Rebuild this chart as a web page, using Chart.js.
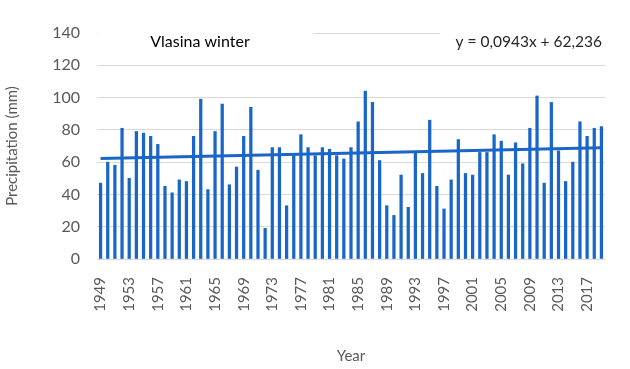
<!DOCTYPE html>
<html>
<head>
<meta charset="utf-8">
<script src="https://cdn.jsdelivr.net/npm/chart.js@4.4.1/dist/chart.umd.min.js"></script>
<style>
  html, body { margin: 0; padding: 0; background: #fff; }
  #wrap { width: 630px; height: 369px; }
</style>
</head>
<body>
<div id="wrap"><canvas id="chart" width="630" height="369"></canvas></div>
<script>
// Vlasina winter precipitation, 1949-2019

const years = [];
for (let y = 1949; y <= 2019; y++) years.push(String(y));

const precipitation = [
  47, 60, 58, 81, 50, 79, 78, 76, 71, 45, 41, 49,   // 1949-1960
  48, 76, 99, 43, 79, 96, 46, 57, 76, 94, 55, 19,   // 1961-1972
  69, 69, 33, 64, 77, 69, 64, 69, 68, 64, 62, 69,   // 1973-1984
  85, 104, 97, 61, 33, 27, 52, 32, 66, 53, 86, 45,  // 1985-1996
  31, 49, 74, 53, 52, 66, 66, 77, 73, 52, 72, 59,   // 1997-2008
  81, 101, 47, 97, 67, 48, 60, 85, 76, 81, 82       // 2009-2019
];

// linear trend line, read at first and last year
const trendStart = 62.3;
const trendEnd = 68.9;
const trendText = 'y = 0,0943x + 62,236';
const chartTitle = 'Vlasina winter';

const yTicks = [0, 20, 40, 60, 80, 100, 120, 140];

const BLUE = '#1a66c8';
const TEXT = '#595959';
const FONT = 'Lato, "Open Sans", sans-serif';

const trendData = years.map((_, i) => {
  if (i === 0) return trendStart;
  if (i === years.length - 1) return trendEnd;
  return null;
});

// title and equation sit inside the plot on white boxes
const labelsPlugin = {
  id: 'labels',
  beforeDatasetsDraw(chart) {
    const ctx = chart.ctx;
    ctx.save();
    ctx.fillStyle = '#fff';
    ctx.fillRect(98, 24, 215, 30);
    ctx.fillRect(440, 24, 165, 30);
    ctx.fillStyle = '#000';
    ctx.font = '16px ' + FONT;
    ctx.textBaseline = 'middle';
    ctx.textAlign = 'center';
    ctx.fillText(chartTitle, 200, 42);
    ctx.fillStyle = '#262626';
    ctx.textAlign = 'right';
    ctx.font = '15.5px ' + FONT;
    ctx.fillText(trendText, 602, 42);
    ctx.restore();
  }
};

new Chart(document.getElementById('chart'), {
  type: 'bar',
  data: {
    labels: years,
    datasets: [
      {
        type: 'line',
        data: trendData,
        borderColor: BLUE,
        borderWidth: 3,
        pointRadius: 0,
        spanGaps: true,
        order: 0
      },
      {
        data: precipitation,
        backgroundColor: BLUE,
        barThickness: 2.6,
        order: 1
      }
    ]
  },
  options: {
    responsive: false,
    animation: false,
    layout: { padding: { top: 33, right: 25, left: 0, bottom: 0 } },
    plugins: {
      legend: { display: false },
      tooltip: { enabled: false }
    },
    scales: {
      x: {
        grid: { display: false },
        border: { display: false },
        ticks: {
          autoSkip: false,
          maxRotation: 90,
          minRotation: 90,
          padding: 10,
          color: TEXT,
          font: { family: FONT, size: 15 },
          callback: function (value, index) {
            return index % 4 === 0 ? years[index] : '';
          }
        },
        title: {
          display: true,
          text: 'Year',
          color: TEXT,
          font: { family: FONT, size: 15 },
          padding: { top: 0, bottom: 4 }
        },
        afterFit: (scale) => { scale.height = 110; }
      },
      y: {
        min: 0,
        max: 140,
        afterBuildTicks: (scale) => { scale.ticks = yTicks.map((v) => ({ value: v })); },
        grid: { color: '#d9d9d9', lineWidth: 1, drawTicks: false },
        border: { display: false },
        ticks: {
          padding: 17,
          color: TEXT,
          font: { family: FONT, size: 16 }
        },
        title: {
          display: true,
          text: 'Precipitation (mm)',
          color: TEXT,
          font: { family: FONT, size: 15 },
          padding: { top: 3, bottom: 0 }
        },
        afterFit: (scale) => { scale.width = 97; }
      }
    }
  },
  plugins: [labelsPlugin]
});
</script>
</body>
</html>
